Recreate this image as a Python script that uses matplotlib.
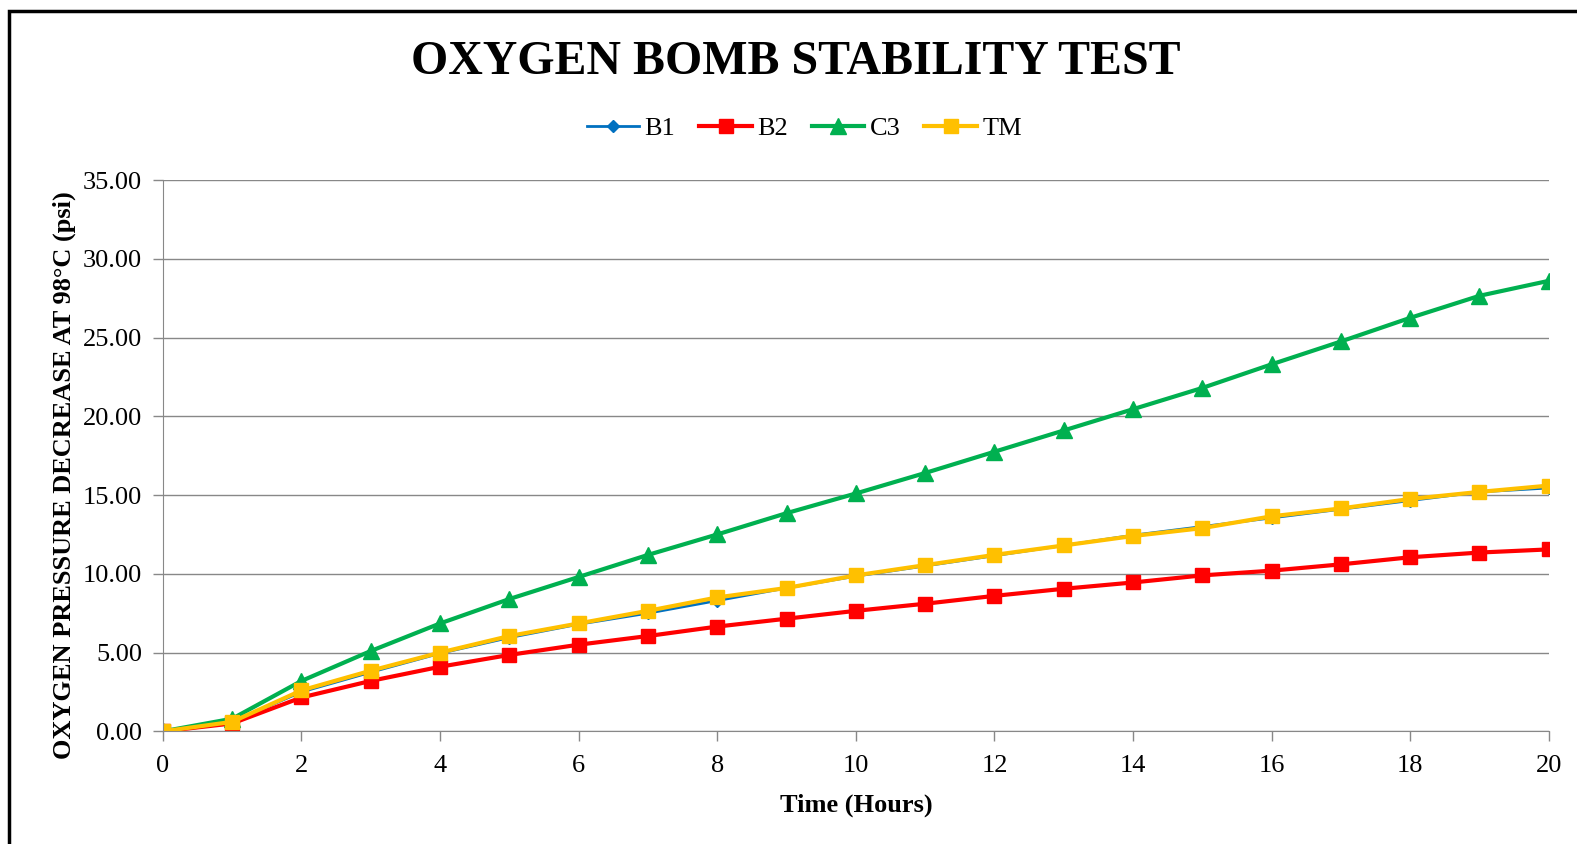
import matplotlib.pyplot as plt
from matplotlib.patches import Rectangle

plt.rcParams['font.family'] = ['Liberation Serif', 'DejaVu Serif']

hours = list(range(0, 21))
b1 = [0.0, 0.6, 2.5, 3.75, 4.95, 5.95, 6.8, 7.5, 8.3, 9.1, 9.85, 10.5,
      11.15, 11.8, 12.45, 13.0, 13.55, 14.1, 14.65, 15.2, 15.45]
b2 = [0.0, 0.5, 2.15, 3.2, 4.1, 4.85, 5.5, 6.05, 6.65, 7.15, 7.65, 8.1,
      8.6, 9.05, 9.45, 9.9, 10.2, 10.6, 11.05, 11.35, 11.55]
c3 = [0.0, 0.8, 3.2, 5.1, 6.85, 8.4, 9.8, 11.2, 12.5, 13.85, 15.1, 16.4,
      17.75, 19.1, 20.45, 21.8, 23.3, 24.75, 26.25, 27.65, 28.6]
tm = [0.0, 0.6, 2.6, 3.85, 5.0, 6.05, 6.85, 7.65, 8.5, 9.1, 9.9, 10.55,
      11.2, 11.8, 12.4, 12.9, 13.65, 14.15, 14.75, 15.2, 15.6]

fig = plt.figure(figsize=(15.77, 8.44), dpi=100)
ax = fig.add_axes([0.1033, 0.1335, 0.8788, 0.6532])

lw = 3.0
ax.plot(hours, b1, color='#0070C0', marker='D', markersize=6, linewidth=2.0, label='B1')
ax.plot(hours, b2, color='#FF0000', marker='s', markersize=10, linewidth=lw, label='B2')
ax.plot(hours, c3, color='#00B050', marker='^', markersize=11, linewidth=lw, label='C3')
ax.plot(hours, tm, color='#FFC000', marker='s', markersize=10, linewidth=lw, label='TM')

ax.set_xlim(0, 20)
ax.set_ylim(0, 35)
ax.set_xticks(range(0, 21, 2))
ax.set_yticks(range(0, 36, 5))
ax.set_yticklabels(['%.2f' % v for v in range(0, 36, 5)])
ax.tick_params(labelsize=19, color='#888888', length=7, width=1)
ax.tick_params(axis='x', pad=10)
ax.tick_params(axis='y', pad=8)
ax.grid(axis='y', color='#888888', linewidth=1)
ax.set_axisbelow(True)
for s in ['top', 'right']:
    ax.spines[s].set_visible(False)
for s in ['left', 'bottom']:
    ax.spines[s].set_color('#888888')

ax.set_xlabel('Time (Hours)', fontsize=19, fontweight='bold', labelpad=12)
ax.set_ylabel('OXYGEN PRESSURE DECREASE AT 98\u00b0C (psi)', fontsize=19, fontweight='bold')
ax.yaxis.set_label_coords(-0.063, 0.465)

fig.text(0.5045, 0.926, 'OXYGEN BOMB STABILITY TEST', ha='center', va='center',
         fontsize=34.5, fontweight='bold')
fig.legend(loc='center', bbox_to_anchor=(0.51, 0.848), ncol=4, frameon=False,
           fontsize=19, handlelength=2.0, handletextpad=0.2, columnspacing=0.9)

fig.patches.append(Rectangle((0.006, -0.1), 1.2, 1.087, transform=fig.transFigure,
                             fill=False, edgecolor='black', linewidth=2.5))

fig.savefig('out.png')
